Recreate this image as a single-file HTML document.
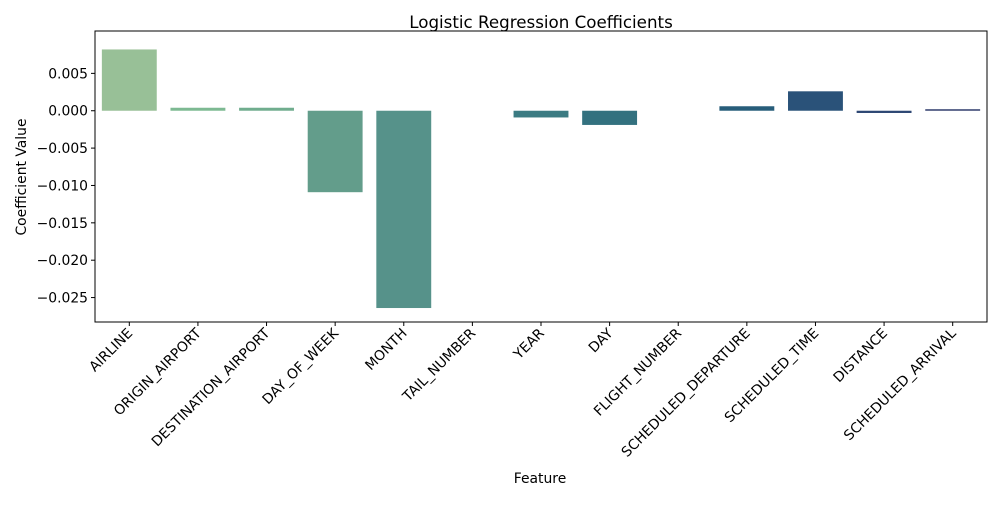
<!DOCTYPE html>
<html><head><meta charset="utf-8"><style>
body{margin:0;background:#fff;font-family:"Liberation Sans","DejaVu Sans",sans-serif}
svg text{font-family:"DejaVu Sans","Liberation Sans",sans-serif;fill:#000}
</style></head><body>
<svg id="chart" width="1000" height="500" xmlns="http://www.w3.org/2000/svg">
<rect width="1000" height="500" fill="#fff"/>
<text x="541" y="28" font-size="16.7" text-anchor="middle">Logistic Regression Coefficients</text>
<text x="540" y="483" font-size="13.9" text-anchor="middle">Feature</text>
<text transform="translate(26,177) rotate(-90)" font-size="13.9" text-anchor="middle">Coefficient Value</text>
<g id="bars"></g><g id="ticks"></g>
<rect x="95" y="31" width="892" height="291" fill="none" stroke="#000" stroke-width="1"/>
</svg>
<script>
const categories=["AIRLINE","ORIGIN_AIRPORT","DESTINATION_AIRPORT","DAY_OF_WEEK","MONTH","TAIL_NUMBER","YEAR","DAY","FLIGHT_NUMBER","SCHEDULED_DEPARTURE","SCHEDULED_TIME","DISTANCE","SCHEDULED_ARRIVAL"];
const values=[0.0082,0.0004,0.0004,-0.0109,-0.0264,0,-0.0009,-0.0019,0,0.0006,0.0026,-0.0003,0.0002];
const colors=["#98c097","#7db992","#70ad8e","#639d8b","#56928a","#4a8986","#3b7b82","#33717f","#2d697d","#275d7a","#2a5279","#2d4773","#2f3c6c"];
const yTicks=[0.005,0,-0.005,-0.01,-0.015,-0.02,-0.025];
const yTickLabels=["0.005","0.000","\u22120.005","\u22120.010","\u22120.015","\u22120.020","\u22120.025"];
const L=95,R=987,T=31,B=322,yMax=0.01067,yMin=-0.02827;
const ys=v=>T+(yMax-v)/(yMax-yMin)*(B-T);
const step=(R-L)/categories.length;
const xs=i=>L+step*(i+0.5);
const NS="http://www.w3.org/2000/svg";
const bars=document.getElementById('bars'),ticks=document.getElementById('ticks');
values.forEach((v,i)=>{
 const r=document.createElementNS(NS,'rect');
 const y0=ys(0),y1=ys(v);
 r.setAttribute('x',xs(i)-step*0.4);r.setAttribute('width',step*0.8);
 r.setAttribute('y',Math.min(y0,y1));r.setAttribute('height',Math.abs(y1-y0));
 r.setAttribute('fill',colors[i]);
 
 
 bars.appendChild(r);
 const t=document.createElementNS(NS,'line');
 t.setAttribute('x1',xs(i));t.setAttribute('x2',xs(i));t.setAttribute('y1',B);t.setAttribute('y2',B+4);t.setAttribute('stroke','#000');
 
 
 ticks.appendChild(t);
 const tx=document.createElementNS(NS,'text');
 tx.setAttribute('transform',`translate(${xs(i)+4},${B+12}) rotate(-45)`);
 tx.setAttribute('text-anchor','end');tx.setAttribute('font-size','13.9');
 tx.textContent=categories[i];
 
 
 ticks.appendChild(tx);
});
yTicks.forEach((v,i)=>{
 const y=ys(v);
 const t=document.createElementNS(NS,'line');
 t.setAttribute('x1',L-4);t.setAttribute('x2',L);t.setAttribute('y1',y);t.setAttribute('y2',y);t.setAttribute('stroke','#000');
 
 
 ticks.appendChild(t);
 const tx=document.createElementNS(NS,'text');
 tx.setAttribute('x',L-7);tx.setAttribute('y',y+5);tx.setAttribute('text-anchor','end');tx.setAttribute('font-size','13.9');
 tx.textContent=yTickLabels[i];
 
 
 ticks.appendChild(tx);
});
</script>
</body></html>
